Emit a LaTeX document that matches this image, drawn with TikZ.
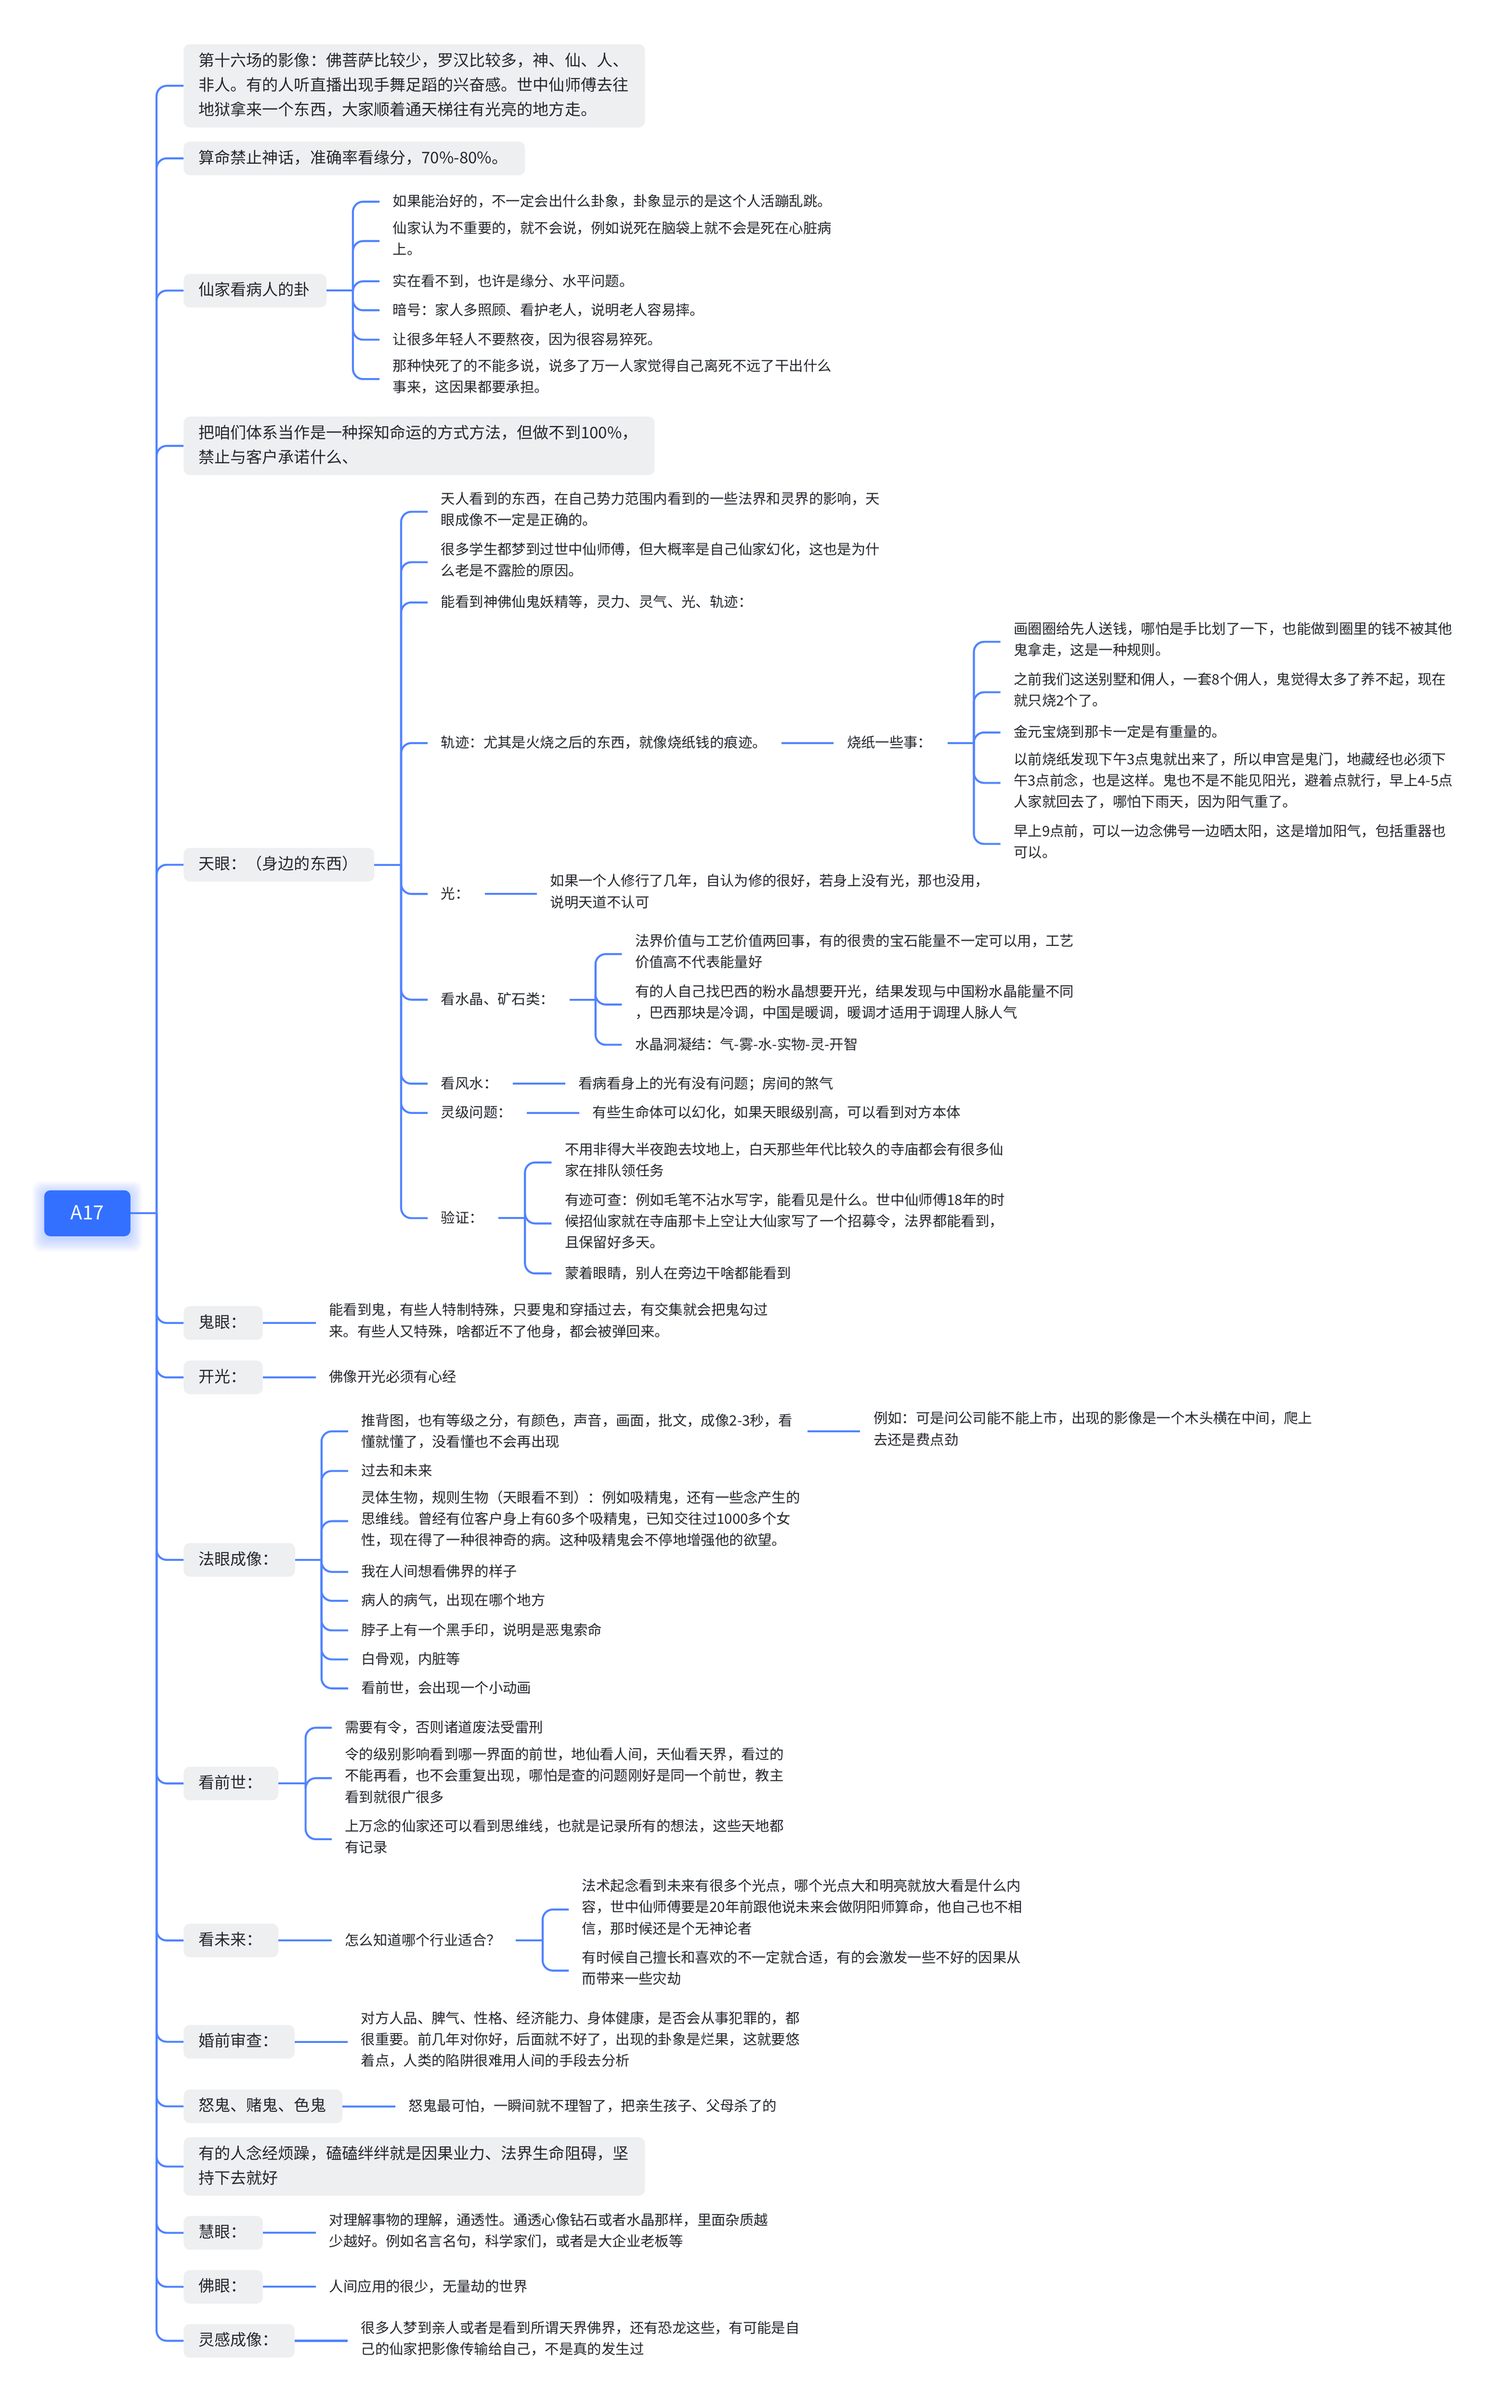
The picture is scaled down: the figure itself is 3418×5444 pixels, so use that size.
\documentclass[tikz,border=0pt]{standalone}
\usepackage{fontspec}
\setmainfont{Noto Sans CJK SC}
\definecolor{linkblue}{HTML}{4F83FF}
\definecolor{rootblue}{HTML}{3370FF}
\definecolor{boxgrey}{HTML}{EEEFF1}
\definecolor{inkdark}{HTML}{24272D}
\tikzset{
  link/.style={draw=linkblue,line width=4.5pt},
  curve/.style={link,rounded corners=23pt},
  txtbase/.style={anchor=west,inner xsep=30pt,inner ysep=0pt,align=left,text=inkdark,
    font=\fontsize{32}{48}\selectfont,execute at end node=\strut},
  plain/.style={txtbase,execute at begin node=\rule{0pt}{36pt}},
  ml/.style={txtbase,execute at begin node=\rule{0pt}{37.5pt}},
  topic/.style={anchor=west,inner xsep=34pt,inner ysep=0pt,align=left,text=inkdark,fill=boxgrey,
    rounded corners=14pt,font=\fontsize{36}{56}\selectfont,
    execute at begin node=\strut,execute at end node=\strut},
  rootbox/.style={fill=rootblue,rounded corners=14pt,text=white,inner sep=0pt,
    minimum width=195pt,minimum height=104pt,font=\fontsize{44}{50}\selectfont}
}
\newcommand{\brlink}[3]{%
  \draw[link] (#1.east) -- (#1.east -| #2);
  \draw[curve] (#1.east -| #2) -- (#2 |- #3.west) -- (#3.west);}
\newcommand{\stlink}[2]{\draw[link] (#1.east) -- (#2.west);}
\begin{document}
\begin{tikzpicture}[x=1pt,y=-1pt]
\useasboundingbox[fill=white] (0,0) rectangle (3418,5444);
% glow of the root
\foreach \i in {1,...,12}
  \fill[rootblue,fill opacity=0.022,rounded corners=18pt]
    ({100-\i*2.2},{2697-\i*2.2}) rectangle ({295+\i*2.2},{2801+\i*2.4});
\node[rootbox] (root) at (197.5,2743) {\raisebox{4pt}{A17}};
% spines
\coordinate (s0) at (354,0);
\coordinate (s3) at (798,0);
\coordinate (s5) at (907,0);
\coordinate (s54) at (2202,0);
\coordinate (s56) at (1346.5,0);
\coordinate (s59) at (1187,0);
\coordinate (s8) at (727,0);
\coordinate (s9) at (691,0);
\coordinate (s10) at (1227,0);
% main topics
\node[topic,text width=975pt,minimum height=188pt] (t1) at (415,194) {第十六场的影像：佛菩萨比较少，罗汉比较多，神、仙、人、\\非人。有的人听直播出现手舞足蹈的兴奋感。世中仙师傅去往\\地狱拿来一个东西，大家顺着通天梯往有光亮的地方走。};
\node[topic,text width=704pt,minimum height=76pt] (t2) at (415,358) {算命禁止神话，准确率看缘分，70\%-80\%。};
\node[topic,text width=255pt,minimum height=76pt] (t3) at (415,657) {仙家看病人的卦};
\node[topic,text width=997pt,minimum height=132pt] (t4) at (415,1008) {把咱们体系当作是一种探知命运的方式方法，但做不到100\%，\\禁止与客户承诺什么、};
\node[topic,text width=363pt,minimum height=76pt] (t5) at (415,1955) {天眼：（身边的东西）};
\node[topic,text width=111pt,minimum height=76pt] (t6) at (415,2991) {鬼眼：};
\node[topic,text width=111pt,minimum height=76pt] (t7) at (415,3114) {开光：};
\node[topic,text width=184pt,minimum height=76pt] (t8) at (415,3526.5) {法眼成像：};
\node[topic,text width=146pt,minimum height=76pt] (t9) at (415,4032) {看前世：};
\node[topic,text width=146pt,minimum height=76pt] (t10) at (415,4387) {看未来：};
\node[topic,text width=183pt,minimum height=76pt] (t11) at (415,4616) {婚前审查：};
\node[topic,text width=291pt,minimum height=76pt] (t12) at (415,4762) {怒鬼、赌鬼、色鬼};
\node[topic,text width=975pt,minimum height=132pt] (t13) at (415,4898) {有的人念经烦躁，磕磕绊绊就是因果业力、法界生命阻碍，坚\\持下去就好};
\node[topic,text width=111pt,minimum height=76pt] (t14) at (415,5048) {慧眼：};
\node[topic,text width=111pt,minimum height=76pt] (t15) at (415,5170) {佛眼：};
\node[topic,text width=183pt,minimum height=76pt] (t16) at (415,5292) {灵感成像：};
\foreach \n in {t1,t2,t3,t4,t5,t6,t7,t8,t9,t10,t11,t12,t13,t14,t15,t16} {\brlink{root}{s0}{\n}}
% topic 3
\node[plain] (a1) at (858,456) {如果能治好的，不一定会出什么卦象，卦象显示的是这个人活蹦乱跳。};
\node[ml] (a2) at (858,545) {仙家认为不重要的，就不会说，例如说死在脑袋上就不会是死在心脏病\\上。};
\node[plain] (a3) at (858,636) {实在看不到，也许是缘分、水平问题。};
\node[plain] (a4) at (858,701.5) {暗号：家人多照顾、看护老人，说明老人容易摔。};
\node[plain] (a5) at (858,768) {让很多年轻人不要熬夜，因为很容易猝死。};
\node[ml] (a6) at (858,857) {那种快死了的不能多说，说多了万一人家觉得自己离死不远了干出什么\\事来，这因果都要承担。};
\foreach \n in {a1,a2,a3,a4,a5,a6} {\brlink{t3}{s3}{\n}}
% topic 5
\node[ml] (b1) at (967,1157) {天人看到的东西，在自己势力范围内看到的一些法界和灵界的影响，天\\眼成像不一定是正确的。};
\node[ml] (b2) at (967,1271) {很多学生都梦到过世中仙师傅，但大概率是自己仙家幻化，这也是为什\\么老是不露脸的原因。};
\node[plain] (b3) at (967,1362) {能看到神佛仙鬼妖精等，灵力、灵气、光、轨迹：};
\node[plain,text width=740pt] (b4) at (967,1680) {轨迹：尤其是火烧之后的东西，就像烧纸钱的痕迹。};
\node[plain,text width=69pt] (b5) at (967,2021) {光：};
\node[plain,text width=261pt] (b6) at (967,2260) {看水晶、矿石类：};
\node[plain,text width=132pt] (b7) at (967,2450) {看风水：};
\node[plain,text width=164pt] (b8) at (967,2516) {灵级问题：};
\node[plain,text width=100pt] (b9) at (967,2754) {验证：};
\foreach \n in {b1,b2,b3,b4,b5,b6,b7,b8,b9} {\brlink{t5}{s5}{\n}}
\node[plain,text width=197pt] (c0) at (1885,1680) {烧纸一些事：};
\stlink{b4}{c0}
\node[ml] (c1) at (2262,1451) {画圈圈给先人送钱，哪怕是手比划了一下，也能做到圈里的钱不被其他\\鬼拿走，这是一种规则。};
\node[ml] (c2) at (2262,1565) {之前我们这送别墅和佣人，一套8个佣人，鬼觉得太多了养不起，现在\\就只烧2个了。};
\node[plain] (c3) at (2262,1656) {金元宝烧到那卡一定是有重量的。};
\node[ml] (c4) at (2262,1770) {以前烧纸发现下午3点鬼就出来了，所以申宫是鬼门，地藏经也必须下\\午3点前念，也是这样。鬼也不是不能见阳光，避着点就行，早上4-5点\\人家就回去了，哪怕下雨天，因为阳气重了。};
\node[ml] (c5) at (2262,1908) {早上9点前，可以一边念佛号一边晒太阳，这是增加阳气，包括重器也\\可以。};
\foreach \n in {c1,c2,c3,c4,c5} {\brlink{c0}{s54}{\n}}
\node[ml] (d1) at (1214,2021) {如果一个人修行了几年，自认为修的很好，若身上没有光，那也没用，\\说明天道不认可};
\stlink{b5}{d1}
\node[ml] (e1) at (1406,2157) {法界价值与工艺价值两回事，有的很贵的宝石能量不一定可以用，工艺\\价值高不代表能量好};
\node[ml] (e2) at (1406,2271) {有的人自己找巴西的粉水晶想要开光，结果发现与中国粉水晶能量不同\\，巴西那块是冷调，中国是暖调，暖调才适用于调理人脉人气};
\node[plain] (e3) at (1406,2362) {水晶洞凝结：气-雾-水-实物-灵-开智};
\foreach \n in {e1,e2,e3} {\brlink{b6}{s56}{\n}}
\node[plain] (f1) at (1278,2450) {看病看身上的光有没有问题；房间的煞气};
\stlink{b7}{f1}
\node[plain] (g1) at (1310,2516) {有些生命体可以幻化，如果天眼级别高，可以看到对方本体};
\stlink{b8}{g1}
\node[ml] (h1) at (1247,2628) {不用非得大半夜跑去坟地上，白天那些年代比较久的寺庙都会有很多仙\\家在排队领任务};
\node[ml] (h2) at (1247,2766) {有迹可查：例如毛笔不沾水写字，能看见是什么。世中仙师傅18年的时\\候招仙家就在寺庙那卡上空让大仙家写了一个招募令，法界都能看到，\\且保留好多天。};
\node[plain] (h3) at (1247,2879) {蒙着眼睛，别人在旁边干啥都能看到};
\foreach \n in {h1,h2,h3} {\brlink{b9}{s59}{\n}}
% topic 6, 7
\node[ml] (i1) at (714,2991) {能看到鬼，有些人特制特殊，只要鬼和穿插过去，有交集就会把鬼勾过\\来。有些人又特殊，啥都近不了他身，都会被弹回来。};
\stlink{t6}{i1}
\node[plain] (j1) at (714,3114) {佛像开光必须有心经};
\stlink{t7}{j1}
% topic 8
\node[ml,text width=979pt] (k1) at (787,3236) {推背图，也有等级之分，有颜色，声音，画面，批文，成像2-3秒，看\\懂就懂了，没看懂也不会再出现};
\node[plain] (k2) at (787,3325.5) {过去和未来};
\node[ml] (k3) at (787,3439) {灵体生物，规则生物（天眼看不到）：例如吸精鬼，还有一些念产生的\\思维线。曾经有位客户身上有60多个吸精鬼，已知交往过1000多个女\\性，现在得了一种很神奇的病。这种吸精鬼会不停地增强他的欲望。};
\node[plain] (k4) at (787,3553.6) {我在人间想看佛界的样子};
\node[plain] (k5) at (787,3619) {病人的病气，出现在哪个地方};
\node[plain] (k6) at (787,3686) {脖子上有一个黑手印，说明是恶鬼索命};
\node[plain] (k7) at (787,3751.5) {白骨观，内脏等};
\node[plain] (k8) at (787,3817) {看前世，会出现一个小动画};
\foreach \n in {k1,k2,k3,k4,k5,k6,k7,k8} {\brlink{t8}{s8}{\n}}
\node[ml] (k9) at (1945,3236) {例如：可是问公司能不能上市，出现的影像是一个木头横在中间，爬上\\去还是费点劲};
\stlink{k1}{k9}
% topic 9
\node[plain] (m1) at (750,3906) {需要有令，否则诸道废法受雷刑};
\node[ml] (m2) at (750,4020) {令的级别影响看到哪一界面的前世，地仙看人间，天仙看天界，看过的\\不能再看，也不会重复出现，哪怕是查的问题刚好是同一个前世，教主\\看到就很广很多};
\node[ml] (m3) at (750,4158) {上万念的仙家还可以看到思维线，也就是记录所有的想法，这些天地都\\有记录};
\foreach \n in {m1,m2,m3} {\brlink{t9}{s9}{\n}}
% topic 10
\node[plain,text width=356pt] (n0) at (750,4387) {怎么知道哪个行业适合？};
\stlink{t10}{n0}
\node[ml] (n1) at (1286,4317) {法术起念看到未来有很多个光点，哪个光点大和明亮就放大看是什么内\\容，世中仙师傅要是20年前跟他说未来会做阴阳师算命，他自己也不相\\信，那时候还是个无神论者};
\node[ml] (n2) at (1286,4455) {有时候自己擅长和喜欢的不一定就合适，有的会激发一些不好的因果从\\而带来一些灾劫};
\foreach \n in {n1,n2} {\brlink{n0}{s10}{\n}}
% topic 11 to 16
\node[ml] (o1) at (786,4616) {对方人品、脾气、性格、经济能力、身体健康，是否会从事犯罪的，都\\很重要。前几年对你好，后面就不好了，出现的卦象是烂果，这就要悠\\着点，人类的陷阱很难用人间的手段去分析};
\stlink{t11}{o1}
\node[plain] (p1) at (894,4762) {怒鬼最可怕，一瞬间就不理智了，把亲生孩子、父母杀了的};
\stlink{t12}{p1}
\node[ml] (q1) at (714.5,5048) {对理解事物的理解，通透性。通透心像钻石或者水晶那样，里面杂质越\\少越好。例如名言名句，科学家们，或者是大企业老板等};
\stlink{t14}{q1}
\node[plain] (r1) at (714.5,5170) {人间应用的很少，无量劫的世界};
\stlink{t15}{r1}
\node[ml] (u1) at (786,5292) {很多人梦到亲人或者是看到所谓天界佛界，还有恐龙这些，有可能是自\\己的仙家把影像传输给自己，不是真的发生过};
\stlink{t16}{u1}
\end{tikzpicture}
\end{document}
